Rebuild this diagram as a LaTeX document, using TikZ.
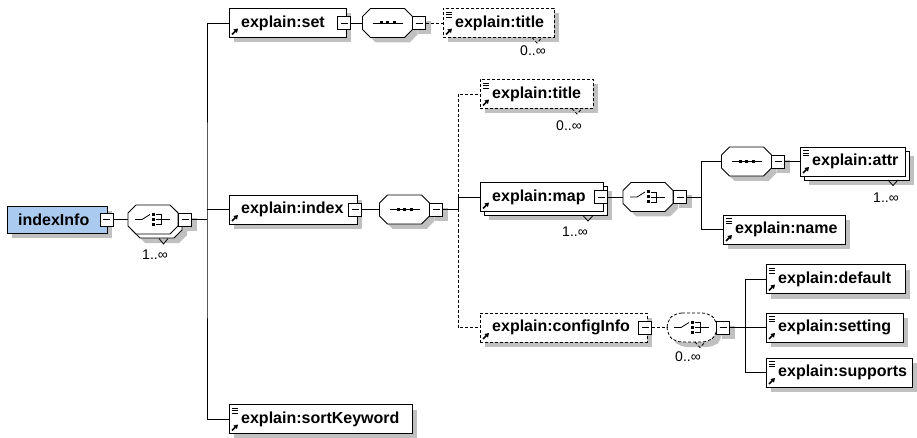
\documentclass[tikz,border=0pt]{standalone}
\usepackage{fontspec}
\setmainfont{Liberation Sans}
\usetikzlibrary{shadows,arrows.meta,calc}
\definecolor{shgray}{RGB}{192,192,192}
\definecolor{rootblue}{RGB}{170,202,240}
\tikzset{
  ln/.style={line width=0.8pt},
  opt/.style={dash pattern=on 3pt off 2pt},
  shad/.style={drop shadow={shadow xshift=5pt,shadow yshift=-5pt,fill=shgray,opacity=1}},
  ebox/.style={draw,line width=0.8pt,fill=white,inner sep=0pt,outer sep=0pt,minimum height=29pt,anchor=west},
  etext/.style={font={\fontsize{16pt}{18pt}\selectfont\bfseries},inner sep=0pt,anchor=west},
  mbox/.style={draw,line width=0.8pt,fill=white,minimum size=13pt,inner sep=0pt,outer sep=0pt,
    path picture={\draw[line width=0.8pt] ([xshift=-3.5pt]path picture bounding box.center) -- ([xshift=3.5pt]path picture bounding box.center);}},
  oct/.style={minimum width=50pt,minimum height=29pt,inner sep=0pt,outer sep=0pt,draw=none},
  occ/.style={font={\fontsize{14pt}{16pt}\selectfont},inner sep=0pt},
}
\newcommand{\octdraw}[4]{\path[#4] ([xshift=#2+8pt,yshift=#3]#1.north west) -- ([xshift=#2-8pt,yshift=#3]#1.north east) -- ([xshift=#2,yshift=#3-8pt]#1.north east) -- ([xshift=#2,yshift=#3+8pt]#1.south east) -- ([xshift=#2-8pt,yshift=#3]#1.south east) -- ([xshift=#2+8pt,yshift=#3]#1.south west) -- ([xshift=#2,yshift=#3+8pt]#1.south west) -- ([xshift=#2,yshift=#3-8pt]#1.north west) -- cycle;}
\newcommand{\seqsym}[1]{%
  \draw[ln] ([xshift=-15pt]#1.center) -- ([xshift=15pt]#1.center);
  \foreach \dx in {-6.5,0,6.5} \fill ([xshift=\dx pt-1.5pt,yshift=-1.5pt]#1.center) rectangle ++(3pt,3pt);}
\newcommand{\chosym}[1]{%
  \draw[ln] ([xshift=-18pt]#1.center) -- ([xshift=-11pt]#1.center) -- ([xshift=-3pt,yshift=5pt]#1.center);
  \foreach \dy in {-5,0,5} \fill ([xshift=-1.5pt,yshift=\dy pt-1.5pt]#1.center) rectangle ++(3pt,3pt);
  \draw[ln] ([xshift=3pt,yshift=5pt]#1.center) -- ([xshift=8pt,yshift=5pt]#1.center) -- ([xshift=8pt,yshift=-5pt]#1.center) -- ([xshift=3pt,yshift=-5pt]#1.center);
  \draw[ln] ([xshift=3pt]#1.center) -- ([xshift=17pt]#1.center);}
\newcommand{\refarrow}[1]{\draw[line width=1.7pt,-{Triangle[length=4pt,width=4.8pt]}] ([xshift=3pt,yshift=3pt]#1.south west) -- ++(6pt,6pt);}
\newcommand{\simpicon}[1]{\foreach \d in {3.5,6,8.5} \draw[line width=0.9pt] ([xshift=2.5pt,yshift=-\d pt]#1.north west) -- ++(6.5pt,0pt);}
\newcommand{\elem}[6]{%
  \node[ebox,minimum width={#3-#2},#6] (#1) at (#2,#4) {};
  \node[etext] (#1t) at ([xshift=12pt]#1.west) {#5};
  \refarrow{#1}}
\begin{document}
\begin{tikzpicture}[x=1pt,y=-1pt]
\useasboundingbox (0,0) rectangle (917,438);
% root
\node[ebox,shad,fill=rootblue,minimum width=100pt,minimum height=27pt] (root) at (7,219.5) {};
\node[etext] (roott) at ([xshift=11pt]root.west) {indexInfo};
\node[mbox] (rootm) at (106.5,219.5) {};
% choice 1 (multiple)
\node[oct] (c1) at (153,219.5) {};
\octdraw{c1}{9pt}{-9pt}{fill=shgray}
\octdraw{c1}{4pt}{-4pt}{draw,fill=white,ln}
\octdraw{c1}{0pt}{0pt}{draw,fill=white,ln}
\chosym{c1}
\node[mbox,shad] (c1m) at (185,219.5) {};
\draw[ln] (159,238.5) -- (163.5,244) -- (168,238.5);
\node[occ] (c1o) at (155,255) {1..∞};
% set
\elem{set}{229}{346}{23}{explain:set}{shad}
\node[mbox] (setm) at (344,23) {};
\node[oct] (s1) at (387.5,23) {};
\octdraw{s1}{5pt}{-5pt}{fill=shgray}
\octdraw{s1}{0pt}{0pt}{draw,fill=white,ln}
\seqsym{s1}
\node[mbox,shad] (s1m) at (419,23) {};
\elem{tt1}{443}{554}{23}{explain:title}{shad,opt}
\simpicon{tt1}
\draw[ln,opt] (532,37.5) -- (537,43) -- (542,37.5);
\node[occ] (tt1o) at (533,51) {0..∞};
% index
\elem{idx}{229}{357}{209.5}{explain:index}{shad}
\node[mbox] (idxm) at (355,209.5) {};
\node[oct] (s2) at (404.5,209.5) {};
\octdraw{s2}{5pt}{-5pt}{fill=shgray}
\octdraw{s2}{0pt}{0pt}{draw,fill=white,ln}
\seqsym{s2}
\node[mbox,shad] (s2m) at (436,209.5) {};
% title 2
\elem{tt2}{480}{593}{94}{explain:title}{shad,opt}
\simpicon{tt2}
\draw[ln,opt] (572,108.5) -- (577,114) -- (582,108.5);
\node[occ] (tt2o) at (569,126) {0..∞};
% map
\node[ebox,shad,minimum width=123pt] (mapb) at (484,201) {};
\elem{map}{480}{603}{197}{explain:map}{}
\node[mbox] (mapm) at (601,197) {};
\draw[ln] (583,215.5) -- (588,221) -- (593,215.5);
\node[occ] (mapo) at (575,232) {1..∞};
\node[oct] (c2) at (648,197) {};
\octdraw{c2}{5pt}{-5pt}{fill=shgray}
\octdraw{c2}{0pt}{0pt}{draw,fill=white,ln}
\chosym{c2}
\node[mbox,shad] (c2m) at (680,197) {};
% seq 3 / attr
\node[oct] (s3) at (746.5,161.5) {};
\octdraw{s3}{5pt}{-5pt}{fill=shgray}
\octdraw{s3}{0pt}{0pt}{draw,fill=white,ln}
\seqsym{s3}
\node[mbox,shad] (s3m) at (778,161.5) {};
\node[ebox,shad,minimum width=105pt] (attrb) at (804,165.5) {};
\elem{attr}{800}{905}{161.5}{explain:attr}{}
\simpicon{attr}
\draw[ln] (888,180) -- (893,185.5) -- (898,180);
\node[occ] (attro) at (886,198) {1..∞};
% name
\elem{name}{723}{845}{229.5}{explain:name}{shad}
\simpicon{name}
% configInfo
\elem{cfg}{480}{647}{327.5}{explain:configInfo}{shad,opt}
\node[mbox] (cfgm) at (645,327.5) {};
\node[oct] (c3) at (692,327.5) {};
\octdraw{c3}{5pt}{-5pt}{fill=shgray,rounded corners=7pt}
\octdraw{c3}{0pt}{0pt}{draw,fill=white,ln,opt,rounded corners=7pt}
\chosym{c3}
\node[mbox,shad] (c3m) at (723,327.5) {};
\draw[ln,opt] (695,342) -- (700,347.5) -- (705,342);
\node[occ] (c3o) at (688,357) {0..∞};
% config children
\elem{def}{766}{905}{279}{explain:default}{shad}
\simpicon{def}
\elem{setg}{766}{903}{327.5}{explain:setting}{shad}
\simpicon{setg}
\elem{sup}{766}{912}{372.5}{explain:supports}{shad}
\simpicon{sup}
% sortKeyword
\elem{sk}{229}{412}{419}{explain:sortKeyword}{shad}
\simpicon{sk}
% connectors
\draw[ln] (rootm.east) -- (c1.west);
\coordinate (bus1) at (207,219.5);
\draw[ln] (c1m.east) -- (bus1);
\draw[ln] (set.west) -| (bus1) |- (sk.west);
\draw[ln] (bus1 |- idx.west) -- (idx.west);
\draw[ln] (setm.east) -- (s1.west);
\draw[ln,opt] (s1m.east) -- (tt1.west);
\draw[ln] (idxm.east) -- (s2.west);
\coordinate (bus2) at (458,209.5);
\draw[ln] (s2m.east) -- (bus2) |- (map.west);
\draw[ln,opt] (bus2 |- map.west) |- (tt2.west);
\draw[ln,opt] (bus2) |- (cfg.west);
\draw[ln] (mapm.east) -- (c2.west);
\coordinate (bus3) at (701,197);
\draw[ln] (c2m.east) -- (bus3);
\draw[ln] (s3.west) -| (bus3) |- (name.west);
\draw[ln] (s3m.east) -- (attr.west);
\draw[ln,opt] (cfgm.east) -- (c3.west);
\coordinate (bus4) at (745,327.5);
\draw[ln] (c3m.east) -- (bus4);
\draw[ln] (def.west) -| (bus4) |- (sup.west);
\draw[ln] (bus4) -- (setg.west);
\end{tikzpicture}
\end{document}
